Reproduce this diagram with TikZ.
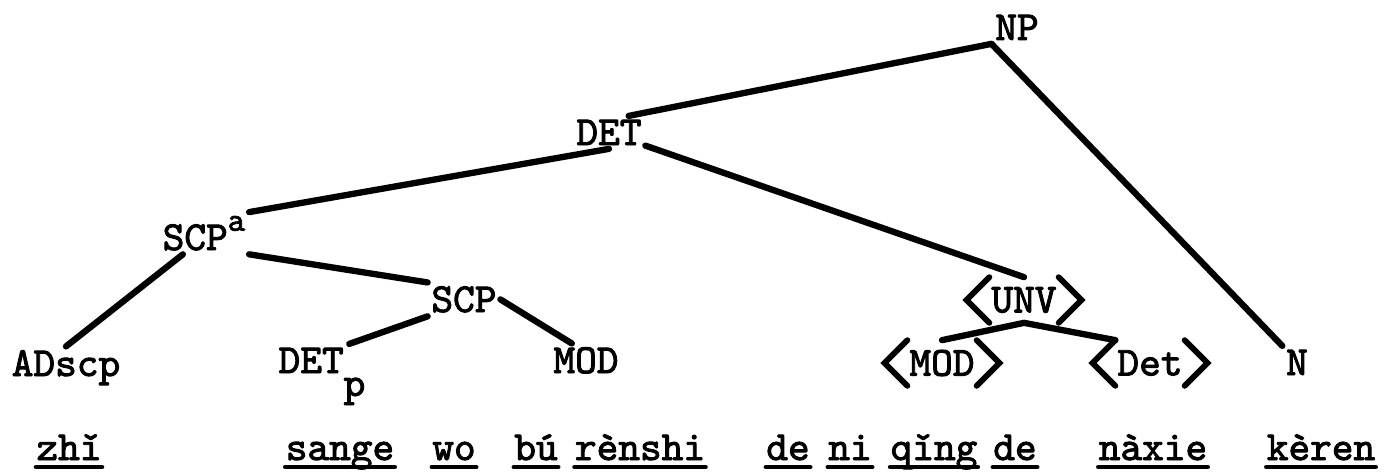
\documentclass[tikz,border=0pt]{standalone}
\usepackage{fontspec}
\setmonofont{lmmono10-regular}[Extension=.otf,FakeBold=2.2]

\newcommand{\angbrackets}[1]{%
  \draw[bracket] (#1.north west) -- ([xshift=-13pt]#1.west) -- (#1.south west);
  \draw[bracket] (#1.north east) -- ([xshift=13pt]#1.east) -- (#1.south east);}

\begin{document}
\begin{tikzpicture}[x=0.02cm,y=-0.02cm,
  font=\ttfamily\fontsize{23.5}{27}\selectfont,
  lbl/.style={anchor=base,inner sep=2pt},
  ang/.style={inner xsep=1pt,inner ysep=0pt,minimum height=0.9cm},
  wrd/.style={anchor=base,inner sep=0pt},
  bracket/.style={line width=3.3pt,line cap=round,line join=miter},
  uline/.style={line width=2.8pt,line cap=round},
  every edge/.style={draw,line width=3.6pt,line cap=round}]
  \useasboundingbox (0,0) rectangle (1385,473);

  % categories
  \node[lbl] (np) at (1017,40) {NP};
  \node[lbl] (det) at (609,145) {DET};
  \node[lbl] (scpa) at (204,250) {SCP\raisebox{11pt}{\fontsize{19}{21}\selectfont a}};
  \node[lbl] (scp) at (464,312) {SCP};
  \node[lbl] (adscp) at (66,376) {ADscp};
  \node[lbl] (detp) at (322,373) {DET\raisebox{-13pt}{p}};
  \node[lbl] (mod) at (586,373) {MOD};
  \node[ang] (unv) at (1024,300) {UNV};
  \node[ang] (umod) at (942,363) {MOD};
  \node[ang] (udet) at (1150,363) {Det};
  \node[lbl] (n) at (1297,375) {N};
  \angbrackets{unv}
  \angbrackets{umod}
  \angbrackets{udet}

  \path (np.south west) edge (det.40)
      edge (n.north west)
    (det.south) edge (scpa.north east)
    (det.-20) edge (unv.north)
    (scpa.-135) edge (adscp.north)
    (scpa.south east) edge (scp.north west)
    (scp.south west) edge (detp.50)
    (scp.east) edge (mod.130)
    (unv.south) edge (umod.north)
      edge (udet.north west);

  % words
  \node[wrd] (zhi) at (69,460) {zhǐ};
  \node[wrd] (sange) at (340,460) {sange};
  \node[wrd] (wo) at (454,460) {wo};
  \node[wrd] (bu) at (536,460) {bú};
  \node[wrd] (renshi) at (640,460) {rènshi};
  \node[wrd] (de1) at (788,460) {de};
  \node[wrd] (ni) at (850,460) {ni};
  \node[wrd] (qing) at (934,460) {qǐng};
  \node[wrd] (de2) at (1015,460) {de};
  \node[wrd] (naxie) at (1153,460) {nàxie};
  \node[wrd] (keren) at (1321,460) {kèren};
  \foreach \w in {zhi,sange,wo,bu,renshi,de1,ni,qing,de2,naxie,keren}
    \draw[uline] ([yshift=-4pt]\w.base west) -- ([yshift=-4pt]\w.base east);
\end{tikzpicture}
\end{document}
